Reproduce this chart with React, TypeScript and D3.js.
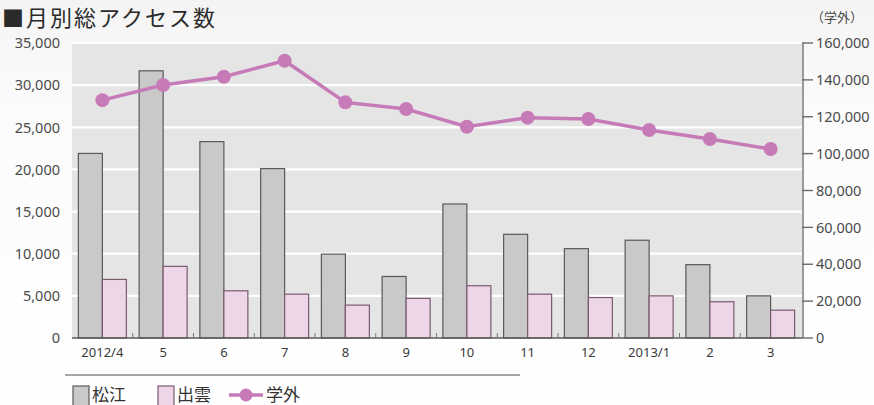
import React from "react";
import * as d3 from "d3";

// Monthly access counts, April 2012 – March 2013
const categories = ["2012/4", "5", "6", "7", "8", "9", "10", "11", "12", "2013/1", "2", "3"];
const matsue = [21900, 31700, 23300, 20100, 9950, 7300, 15900, 12300, 10600, 11600, 8700, 5000];
const izumo = [6950, 8500, 5600, 5200, 3900, 4700, 6200, 5200, 4800, 5000, 4300, 3300];
const gakugai = [129000, 137200, 141700, 150400, 127800, 124200, 114600, 119500, 118800, 112800, 107900, 102500];

const leftTicks = [0, 5000, 10000, 15000, 20000, 25000, 30000, 35000];
const rightTicks = [0, 20000, 40000, 60000, 80000, 100000, 120000, 140000, 160000];

const seriesNames = ["松江", "出雲", "学外"];

const W = 874;
const H = 405;
const left = 72;
const right = 802;
const top = 43;
const bottom = 338;

const FONT = "'Noto Sans CJK JP', 'Noto Sans', sans-serif";
const NUM_FONT = "'Noto Sans', sans-serif";
const TEXT = "#4a4a4a";
const GRAY_FILL = "#c9c9c9";
const GRAY_STROKE = "#5a5a5a";
const PINK_FILL = "#ecd6e8";
const PINK_STROKE = "#7a5a6e";
const LINE = "#c67bb8";

export default function App() {
  const x = d3.scaleBand<string>().domain(categories).range([left, right - 1]).padding(0);
  const sub = d3.scaleBand<string>().domain(["松江", "出雲"]).range([-24, 24]).padding(0);
  const yL = d3.scaleLinear().domain([0, 35000]).range([bottom, top]);
  const yR = d3.scaleLinear().domain([0, 160000]).range([bottom, top]);
  const fmt = d3.format(",");
  const cx = (c: string) => (x(c) ?? 0) + x.bandwidth() / 2;

  const line = d3
    .line<number>()
    .x((_, i) => cx(categories[i]))
    .y((d) => yR(d));

  const boundaries = categories.slice(1).map((c) => x(c) ?? 0);

  return (
    <svg
      width={W}
      height={H}
      viewBox={`0 0 ${W} ${H}`}
      style={{ position: "absolute", left: 0, top: 0, fontFamily: FONT }}
    >
      <defs>
        <linearGradient id="page" x1="0" y1="0" x2="0" y2="1">
          <stop offset="0" stopColor="#f4f4f4" />
          <stop offset="0.25" stopColor="#fbfbfb" />
          <stop offset="1" stopColor="#ffffff" />
        </linearGradient>
      </defs>
      <rect x={0} y={0} width={W} height={H} fill="url(#page)" />

      {/* title */}
      <text x={2} y={26} fontSize={22} letterSpacing={2} fill="#2a2a2a">
        ■月別総アクセス数
      </text>
      <text x={811} y={22} fontSize={13} fill={TEXT}>
        （学外）
      </text>

      {/* plot background + grid */}
      <rect x={left} y={top} width={right - left} height={bottom - top} fill="#e5e5e5" />
      {leftTicks.slice(1).map((t) => (
        <line key={t} x1={left} x2={right} y1={yL(t)} y2={yL(t)} stroke="#ffffff" strokeWidth={2.2} />
      ))}

      {/* bars */}
      {categories.map((c, i) => (
        <g key={c}>
          <rect
            x={cx(c) + (sub("松江") ?? 0)}
            y={yL(matsue[i])}
            width={sub.bandwidth()}
            height={bottom - yL(matsue[i])}
            fill={GRAY_FILL}
            stroke={GRAY_STROKE}
            strokeWidth={1.2}
          />
          <rect
            x={cx(c) + (sub("出雲") ?? 0)}
            y={yL(izumo[i])}
            width={sub.bandwidth()}
            height={bottom - yL(izumo[i])}
            fill={PINK_FILL}
            stroke={PINK_STROKE}
            strokeWidth={1.2}
          />
        </g>
      ))}

      {/* baseline and category ticks */}
      <line x1={left} x2={right} y1={bottom} y2={bottom} stroke="#5a5a5a" strokeWidth={1.6} />
      {boundaries.map((b, i) => (
        <line key={i} x1={b} x2={b} y1={bottom} y2={bottom - 5} stroke="#777" strokeWidth={1} />
      ))}

      {/* right axis */}
      <line x1={right + 1} x2={right + 1} y1={top} y2={bottom} stroke="#9a9a9a" strokeWidth={2} />
      {rightTicks.map((t) => (
        <g key={t}>
          <line x1={right} x2={right + 11} y1={yR(t)} y2={yR(t)} stroke="#6a6a6a" strokeWidth={1.4} />
          <text x={816} y={yR(t)} dy="0.36em" fontSize={14.5} fontFamily={NUM_FONT} fill={TEXT}>
            {fmt(t)}
          </text>
        </g>
      ))}

      {/* left axis labels */}
      {leftTicks.map((t) => (
        <text
          key={t}
          x={60}
          y={yL(t)}
          dy="0.36em"
          fontSize={14.5}
          fontFamily={NUM_FONT}
          fill={TEXT}
          textAnchor="end"
        >
          {fmt(t)}
        </text>
      ))}

      {/* category labels */}
      {categories.map((c) => (
        <text key={c} x={cx(c)} y={357} fontSize={13} fontFamily={NUM_FONT} fill="#3a3a3a" textAnchor="middle">
          {c}
        </text>
      ))}

      {/* 学外 line */}
      <path d={line(gakugai) ?? ""} fill="none" stroke={LINE} strokeWidth={3.5} />
      {gakugai.map((v, i) => (
        <circle key={i} cx={cx(categories[i])} cy={yR(v)} r={7} fill={LINE} />
      ))}

      {/* legend */}
      <line x1={65} x2={520} y1={375} y2={375} stroke="#8a8a8a" strokeWidth={1.5} />
      <rect x={73} y={386} width={16} height={20} fill={GRAY_FILL} stroke={GRAY_STROKE} strokeWidth={1.2} />
      <text x={92} y={401} fontSize={17} fill="#333">
        {seriesNames[0]}
      </text>
      <rect x={158} y={386} width={16} height={20} fill={PINK_FILL} stroke={PINK_STROKE} strokeWidth={1.2} />
      <text x={177} y={401} fontSize={17} fill="#333">
        {seriesNames[1]}
      </text>
      <line x1={229} x2={263} y1={395} y2={395} stroke={LINE} strokeWidth={3.5} />
      <circle cx={246} cy={395} r={6.5} fill={LINE} />
      <text x={266} y={401} fontSize={17} fill="#333">
        {seriesNames[2]}
      </text>
    </svg>
  );
}
